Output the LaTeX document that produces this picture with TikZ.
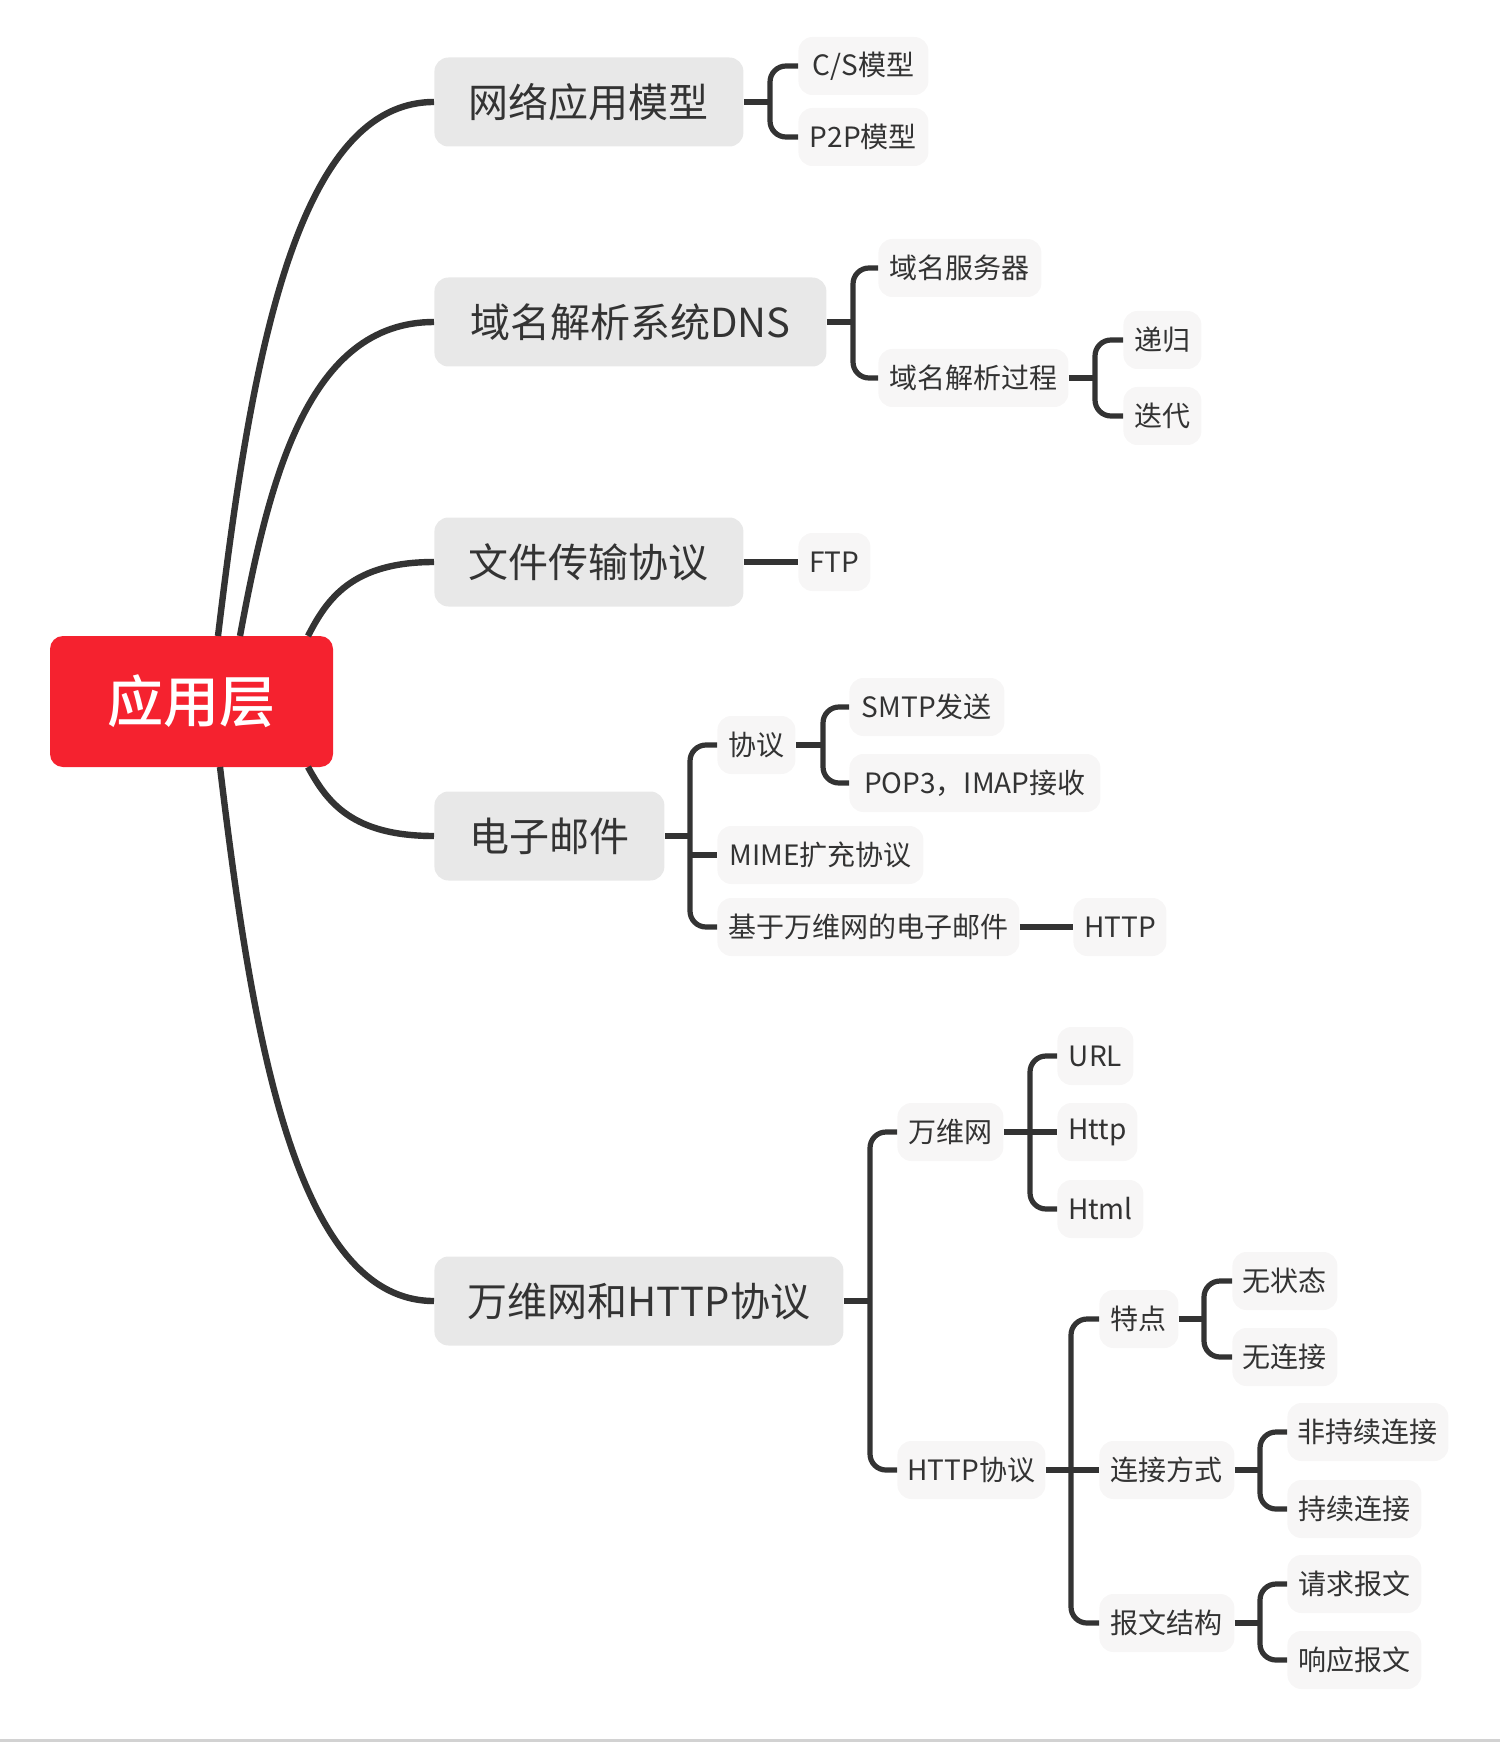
\documentclass[tikz,border=0pt]{standalone}
\usepackage{fontspec}
\newfontfamily\cjk{Noto Sans CJK SC}
\newfontfamily\cjkmed{Noto Sans CJK SC Medium}
\definecolor{rootred}{HTML}{F5222F}
\definecolor{topicgrey}{HTML}{E8E8E8}
\definecolor{leafgrey}{HTML}{F7F6F6}
\definecolor{branchink}{HTML}{333333}
\definecolor{framegrey}{HTML}{D2D2D2}

\begin{document}
\begin{tikzpicture}[
  x=0.5pt,
  y=-0.5pt,
  root/.style={fill=rootred,text=white,rounded corners=6.5pt,inner sep=0pt,
    minimum width=141.5pt,minimum height=65.5pt,
    font=\cjkmed\fontsize{28pt}{32pt}\selectfont},
  topic/.style={anchor=west,fill=topicgrey,text=branchink,rounded corners=7pt,
    inner sep=0pt,minimum height=44.5pt,font=\cjk\fontsize{20pt}{24pt}\selectfont},
  leaf/.style={anchor=west,fill=leafgrey,text=branchink,rounded corners=7pt,
    inner sep=0pt,minimum height=29pt,font=\cjk\fontsize{14pt}{17pt}\selectfont},
  curve/.style={draw=branchink,line width=3.2pt},
  branch/.style={draw=branchink,line width=2.6pt,rounded corners=8pt}
]
  % Page frame, in pixels of the screenshot.
  \useasboundingbox (0,0) rectangle (1500,1743);
  \draw[framegrey,line width=1.5pt] (0,1740) -- (1500,1740);

  % Central topic and the five main topics.
  \node[root] (root) at (191.5,701.5) {应用层};
  \node[topic,minimum width=154.5pt] (model) at (434,102) {网络应用模型};
  \node[topic,minimum width=196pt] (dns) at (434,322) {域名解析系统DNS};
  \node[topic,minimum width=154.5pt] (file) at (434,562) {文件传输协议};
  \node[topic,minimum width=115pt] (mail) at (434,836) {电子邮件};
  \node[topic,minimum width=204.5pt] (web) at (434,1301) {万维网和HTTP协议};

  % Curved links leave the central topic on its top and bottom edges.
  \coordinate (r1) at (218,636);
  \coordinate (r2) at (240,636);
  \coordinate (r3) at (308,636);
  \coordinate (r4) at (308,767);
  \coordinate (r5) at (220,767);
  \draw[curve] (r1) .. controls (250,369) and (294,102) .. (model.west);
  \draw[curve] (r2) .. controls (269,479) and (308,322) .. (dns.west);
  \draw[curve] (r3) .. controls (327,599) and (352,562) .. (file.west);
  \draw[curve] (r4) .. controls (327,802) and (352,836) .. (mail.west);
  \draw[curve] (r5) .. controls (252,1034) and (295,1301) .. (web.west);

  % Subtopics.
  \node[leaf,minimum width=65pt] (cs) at (798,66) {C/S模型};
  \node[leaf,minimum width=65pt] (ptp) at (798,137) {P2P模型};

  \node[leaf,minimum width=81.5pt] (server) at (878,268) {域名服务器};
  \node[leaf,minimum width=95pt] (resolve) at (878,378) {域名解析过程};
  \node[leaf,minimum width=39pt] (recur) at (1123,340) {递归};
  \node[leaf,minimum width=39pt] (iter) at (1123,416) {迭代};

  \node[leaf,minimum width=36pt] (ftp) at (798,562) {FTP};

  \node[leaf,minimum width=39pt] (proto) at (717,745) {协议};
  \node[leaf,minimum width=77.5pt] (smtp) at (849,707) {SMTP发送};
  \node[leaf,minimum width=125.5pt] (pop) at (849,783) {POP3，IMAP接收};
  \node[leaf,minimum width=103pt] (mime) at (717,855) {MIME扩充协议};
  \node[leaf,minimum width=151pt] (webmail) at (717,927) {基于万维网的电子邮件};
  \node[leaf,minimum width=46.5pt] (mailhttp) at (1073,927) {HTTP};

  \node[leaf,minimum width=53pt] (www) at (897,1132) {万维网};
  \node[leaf,minimum width=38pt] (url) at (1057,1056) {URL};
  \node[leaf,minimum width=40pt] (httpl) at (1057,1132) {Http};
  \node[leaf,minimum width=43pt] (html) at (1057,1209) {Html};
  \node[leaf,minimum width=74pt] (httpp) at (897,1470) {HTTP协议};
  \node[leaf,minimum width=39.5pt] (feat) at (1099,1319) {特点};
  \node[leaf,minimum width=52.5pt] (nostate) at (1232,1281) {无状态};
  \node[leaf,minimum width=52.5pt] (noconn) at (1232,1357) {无连接};
  \node[leaf,minimum width=67.5pt] (conn) at (1099,1470) {连接方式};
  \node[leaf,minimum width=80.5pt] (nonpers) at (1287,1432) {非持续连接};
  \node[leaf,minimum width=67pt] (pers) at (1287,1509) {持续连接};
  \node[leaf,minimum width=67.5pt] (msg) at (1099,1623) {报文结构};
  \node[leaf,minimum width=67pt] (req) at (1287,1584) {请求报文};
  \node[leaf,minimum width=67pt] (resp) at (1287,1660) {响应报文};

  % Bracket junctions, one per parent with several children.
  \coordinate (jmodel) at (770,102);
  \coordinate (jdns) at (853,322);
  \coordinate (jresolve) at (1095,378);
  \coordinate (jmail) at (690,836);
  \coordinate (jproto) at (823,745);
  \coordinate (jweb) at (870,1301);
  \coordinate (jwww) at (1030,1132);
  \coordinate (jhttpp) at (1071,1470);
  \coordinate (jfeat) at (1204,1319);
  \coordinate (jconn) at (1260,1470);
  \coordinate (jmsg) at (1260,1623);

  % Stub from each parent to its junction.
  \foreach \p/\j in {model/jmodel,dns/jdns,resolve/jresolve,mail/jmail,proto/jproto,
                     web/jweb,www/jwww,httpp/jhttpp,feat/jfeat,conn/jconn,msg/jmsg} {
    \draw[branch] (\p.east) -- (\j);
  }

  % Trunks from the first child to the last child.
  \foreach \a/\j/\b in {cs/jmodel/ptp,server/jdns/resolve,recur/jresolve/iter,
                        proto/jmail/webmail,smtp/jproto/pop,www/jweb/httpp,
                        url/jwww/html,feat/jhttpp/msg,nostate/jfeat/noconn,
                        nonpers/jconn/pers,req/jmsg/resp} {
    \draw[branch] (\a.west) -| (\j) |- (\b.west);
  }

  % Middle children join the trunk straight on.
  \foreach \c/\j in {mime/jmail,httpl/jwww,conn/jhttpp} {
    \draw[branch] (\c.west -| \j) -- (\c.west);
  }

  % Single children.
  \draw[branch] (file.east) -- (ftp.west);
  \draw[branch] (webmail.east) -- (mailhttp.west);
\end{tikzpicture}
\end{document}
